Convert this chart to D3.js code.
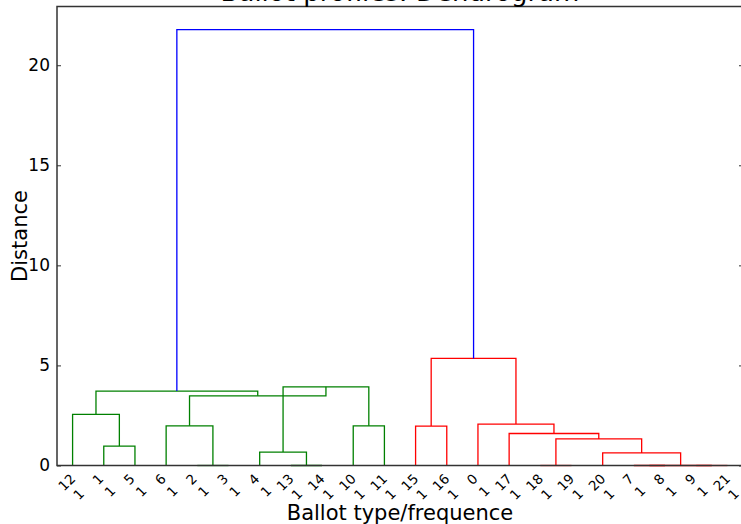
<!DOCTYPE html>
<html>
<head>
<meta charset="utf-8">
<script src="https://cdn.jsdelivr.net/npm/d3@7"></script>
<style>
  body { margin: 0; background: #fff; }
  text { font-family: "DejaVu Sans", sans-serif; fill: #000; }
</style>
</head>
<body>
<div id="chart"></div>
<script>
var svgWidth = 741;
var svgHeight = 524;

var margin = { top: 6.5, right: -2, bottom: 58.5, left: 57 };

var width = svgWidth - margin.left - margin.right;
var height = svgHeight - margin.top - margin.bottom;

// ballot ids (leaves 0..21) and their frequence
var ballotIds = [0, 1, 2, 3, 4, 5, 6, 7, 8, 9, 10, 11, 12, 13, 14, 15, 16, 17, 18, 19, 20, 21];
var ballotFreq = [1, 1, 1, 1, 1, 1, 1, 1, 1, 1, 1, 1, 1, 1, 1, 1, 1, 1, 1, 1, 1, 1];

// linkage: [left, right, distance], new clusters numbered from 22
var linkage = [
  [2, 3, 0],
  [13, 14, 0],
  [18, 19, 0],
  [7, 8, 0],
  [9, 21, 0],
  [25, 26, 0],
  [20, 27, 0.63],
  [4, 23, 0.67],
  [1, 5, 0.97],
  [24, 28, 1.33],
  [17, 31, 1.60],
  [15, 16, 1.97],
  [6, 22, 1.98],
  [10, 11, 1.98],
  [0, 32, 2.07],
  [12, 30, 2.55],
  [29, 35, 3.93],
  [34, 38, 3.48],
  [37, 39, 3.72],
  [33, 36, 5.35],
  [40, 41, 21.78]
];

var yTicks = [0, 5, 10, 15, 20];
var palette = ["#008000", "#ff0000", "#00bfbf", "#bf00bf"];
var aboveColor = "#0000ff";

var n = ballotIds.length;
var maxDist = d3.max(linkage, d => d[2]);
var threshold = 0.7 * maxDist;

// leaf order by walking the tree
var children = {};
linkage.forEach(function(l, i) { children[n + i] = l; });
var order = [];
function walk(id) {
  if (id < n) { order.push(id); return; }
  walk(children[id][0]);
  walk(children[id][1]);
}
walk(n + linkage.length - 1);

var xScale = d3.scaleLinear().domain([0, n * 10]).range([0, width]);
var yScale = d3.scaleLinear().domain([0, maxDist * 1.053]).range([height, 0]);

// x position and height of every node
var pos = {};
order.forEach(function(id, i) { pos[id] = { x: 5 + 10 * i, h: 0 }; });
linkage.forEach(function(l, i) {
  pos[n + i] = { x: (pos[l[0]].x + pos[l[1]].x) / 2, h: l[2] };
});

// colour clusters below threshold
var colorOf = {};
var k = 0;
function paint(id, c) {
  if (id < n) return;
  colorOf[id] = c;
  paint(children[id][0], c);
  paint(children[id][1], c);
}
function assign(id) {
  if (id < n) return;
  if (children[id][2] < threshold) {
    paint(id, palette[k % palette.length]);
    k++;
  } else {
    colorOf[id] = aboveColor;
    assign(children[id][0]);
    assign(children[id][1]);
  }
}
assign(n + linkage.length - 1);

var svg = d3.select("#chart").append("svg")
    .attr("width", svgWidth)
    .attr("height", svgHeight);

var chartGroup = svg.append("g")
    .attr("transform", `translate(${margin.left}, ${margin.top})`);

// links
var links = linkage.map(function(l, i) { return { id: n + i, a: l[0], b: l[1], h: l[2] }; });

chartGroup.selectAll(".link")
    .data(links)
    .enter()
    .append("path")
    .classed("link", true)
    .attr("fill", "none")
    .attr("stroke", d => colorOf[d.id])
    .attr("stroke-width", 1.3)
    .attr("d", function(d) {
      var xa = xScale(pos[d.a].x), xb = xScale(pos[d.b].x);
      return `M${xa},${yScale(pos[d.a].h)}V${yScale(d.h)}H${xb}V${yScale(pos[d.b].h)}`;
    });

// frame
var spine = "#333";
chartGroup.append("rect")
    .attr("x", 0).attr("y", 0)
    .attr("width", width).attr("height", height)
    .attr("fill", "none")
    .attr("stroke", spine)
    .attr("stroke-width", 1.5);

// y ticks both sides, inward
var leftAxis = d3.axisLeft(yScale).tickValues(yTicks).tickSizeInner(-4).tickSizeOuter(0).tickPadding(7);
var yAxis = chartGroup.append("g").call(leftAxis);
yAxis.select(".domain").remove();
yAxis.selectAll("line").attr("stroke", spine);
yAxis.selectAll("text").attr("font-size", "17px").style("font-family", "DejaVu Sans");

var rightAxis = d3.axisRight(yScale).tickValues(yTicks).tickSizeInner(-4).tickSizeOuter(0).tickFormat("");
var yAxisR = chartGroup.append("g").attr("transform", `translate(${width},0)`).call(rightAxis);
yAxisR.select(".domain").remove();
yAxisR.selectAll("line").attr("stroke", spine);

// leaf labels, two lines rotated 45 deg, bbox centred under leaf
order.forEach(function(id, i) {
  var outer = chartGroup.append("g");
  var t = outer.append("g").attr("transform", "rotate(-45)")
      .append("text")
      .attr("font-size", "13.5px")
      .attr("text-anchor", "middle");
  t.append("tspan").attr("x", 0).attr("dy", 0).text(ballotIds[id]);
  t.append("tspan").attr("x", 0).attr("dy", "1.25em").text(ballotFreq[id]);
  var bb = outer.node().getBBox();
  var tx = xScale(pos[id].x);
  outer.attr("transform", `translate(${tx - (bb.x + bb.width / 2)},${height + 5 - bb.y})`);
});

// labels
svg.append("text")
    .attr("x", margin.left + width / 2)
    .attr("y", 520)
    .attr("text-anchor", "middle")
    .attr("font-size", "21px")
    .text("Ballot type/frequence");

svg.append("text")
    .attr("transform", `translate(27, ${margin.top + height / 2})rotate(-90)`)
    .attr("text-anchor", "middle")
    .attr("font-size", "21px")
    .text("Distance");

svg.append("text")
    .attr("x", margin.left + width / 2)
    .attr("y", 1)
    .attr("text-anchor", "middle")
    .attr("font-size", "26px")
    .text("Ballot profiles: Dendrogram");
</script>
</body>
</html>
